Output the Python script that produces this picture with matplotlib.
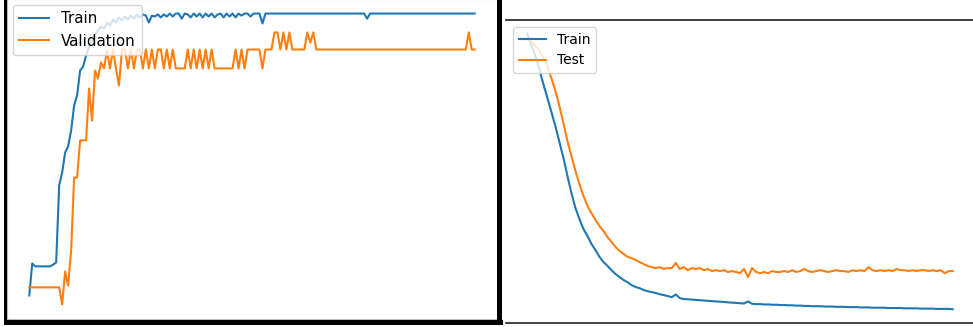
import numpy as np
import matplotlib
matplotlib.use("Agg")
import matplotlib.pyplot as plt
from matplotlib.patches import Rectangle

# figure size in pixels (dpi 100)
W, H = 973, 327

# ---- left panel: accuracy per epoch ----
acc_train = [0.060, 0.167, 0.157, 0.157, 0.157, 0.157, 0.157, 0.157, 0.163, 0.170,
             0.427, 0.470, 0.537, 0.557, 0.610, 0.693, 0.727, 0.810, 0.823, 0.860,
             0.890, 0.910, 0.930, 0.943, 0.957, 0.950, 0.970, 0.960, 0.980, 0.970,
             0.987, 0.977, 0.990, 0.980, 0.993, 0.983, 0.997, 0.987, 0.997, 0.993,
             0.970, 0.993, 0.990, 0.997, 0.987, 0.997, 0.990, 1.000, 0.990, 1.000,
             1.000, 0.983, 1.000, 0.997, 0.987, 1.000, 0.990, 1.000, 0.987, 1.000,
             0.990, 1.000, 0.987, 0.997, 1.000, 0.987, 1.000, 0.990, 1.000, 0.987,
             1.000, 0.993, 1.000, 1.000, 0.990, 1.000, 1.000, 1.000, 0.967, 1.000,
             1.000, 1.000, 1.000, 1.000, 1.000, 1.000, 1.000, 1.000, 1.000, 1.000,
             1.000, 1.000, 1.000, 1.000, 1.000, 1.000, 1.000, 1.000, 1.000, 1.000,
             1.000, 1.000, 1.000, 1.000, 1.000, 1.000, 1.000, 1.000, 1.000, 1.000,
             1.000, 1.000, 1.000, 0.983, 1.000, 1.000, 1.000, 1.000, 1.000, 1.000,
             1.000, 1.000, 1.000, 1.000, 1.000, 1.000, 1.000, 1.000, 1.000, 1.000,
             1.000, 1.000, 1.000, 1.000, 1.000, 1.000, 1.000, 1.000, 1.000, 1.000,
             1.000, 1.000, 1.000, 1.000, 1.000, 1.000, 1.000, 1.000, 1.000, 1.000]

acc_val = [0.087, 0.087, 0.087, 0.087, 0.087, 0.087, 0.087, 0.087, 0.087, 0.087,
           0.087, 0.030, 0.140, 0.093, 0.210, 0.453, 0.453, 0.577, 0.577, 0.577,
           0.750, 0.643, 0.810, 0.783, 0.837, 0.817, 0.877, 0.817, 0.880, 0.817,
           0.760, 0.880, 0.880, 0.817, 0.880, 0.817, 0.880, 0.880, 0.817, 0.880,
           0.817, 0.880, 0.817, 0.880, 0.880, 0.817, 0.880, 0.817, 0.880, 0.817,
           0.817, 0.817, 0.817, 0.880, 0.817, 0.880, 0.817, 0.880, 0.817, 0.880,
           0.817, 0.880, 0.817, 0.817, 0.817, 0.817, 0.817, 0.817, 0.817, 0.880,
           0.817, 0.880, 0.817, 0.880, 0.880, 0.880, 0.880, 0.880, 0.817, 0.880,
           0.880, 0.880, 0.937, 0.937, 0.880, 0.937, 0.880, 0.937, 0.880, 0.880,
           0.880, 0.880, 0.880, 0.937, 0.903, 0.937, 0.880, 0.880, 0.880, 0.880,
           0.880, 0.880, 0.880, 0.880, 0.880, 0.880, 0.880, 0.880, 0.880, 0.880,
           0.880, 0.880, 0.880, 0.880, 0.880, 0.880, 0.880, 0.880, 0.880, 0.880,
           0.880, 0.880, 0.880, 0.880, 0.880, 0.880, 0.880, 0.880, 0.880, 0.880,
           0.880, 0.880, 0.880, 0.880, 0.880, 0.880, 0.880, 0.880, 0.880, 0.880,
           0.880, 0.880, 0.880, 0.880, 0.880, 0.880, 0.880, 0.937, 0.880, 0.880]

# ---- right panel: loss per epoch ----
loss_train = [0.990, 0.953, 0.917, 0.873, 0.823, 0.777, 0.730, 0.683, 0.630, 0.577,
              0.517, 0.460, 0.410, 0.373, 0.340, 0.317, 0.290, 0.270, 0.247, 0.230,
              0.217, 0.203, 0.190, 0.180, 0.170, 0.163, 0.153, 0.147, 0.143, 0.137,
              0.133, 0.130, 0.127, 0.123, 0.120, 0.117, 0.113, 0.122, 0.110, 0.107,
              0.106, 0.105, 0.104, 0.103, 0.102, 0.101, 0.100, 0.099, 0.098, 0.097,
              0.096, 0.095, 0.094, 0.093, 0.092, 0.099, 0.091, 0.090, 0.090, 0.089,
              0.089, 0.088, 0.088, 0.087, 0.087, 0.086, 0.086, 0.085, 0.085, 0.084,
              0.084, 0.083, 0.083, 0.083, 0.082, 0.082, 0.082, 0.081, 0.081, 0.081,
              0.080, 0.080, 0.080, 0.079, 0.079, 0.079, 0.078, 0.078, 0.078, 0.078,
              0.077, 0.077, 0.077, 0.077, 0.076, 0.076, 0.076, 0.076, 0.075, 0.075,
              0.075, 0.075, 0.074, 0.074, 0.074, 0.074, 0.073]

loss_test = [0.973, 0.963, 0.950, 0.933, 0.910, 0.883, 0.843, 0.800, 0.750, 0.693,
             0.633, 0.583, 0.533, 0.490, 0.450, 0.417, 0.393, 0.370, 0.350, 0.333,
             0.313, 0.297, 0.280, 0.267, 0.257, 0.247, 0.243, 0.237, 0.230, 0.223,
             0.217, 0.213, 0.210, 0.213, 0.207, 0.210, 0.210, 0.227, 0.207, 0.213,
             0.203, 0.210, 0.207, 0.210, 0.203, 0.207, 0.200, 0.203, 0.200, 0.203,
             0.197, 0.200, 0.197, 0.193, 0.207, 0.180, 0.210, 0.197, 0.193, 0.197,
             0.193, 0.200, 0.197, 0.197, 0.200, 0.197, 0.203, 0.197, 0.200, 0.207,
             0.200, 0.197, 0.200, 0.203, 0.200, 0.197, 0.200, 0.203, 0.200, 0.200,
             0.197, 0.203, 0.200, 0.203, 0.200, 0.213, 0.203, 0.200, 0.203, 0.200,
             0.203, 0.200, 0.207, 0.203, 0.203, 0.200, 0.203, 0.200, 0.203, 0.203,
             0.200, 0.203, 0.200, 0.203, 0.193, 0.200, 0.200]


def px_box(x0, y0, x1, y1):
    # pixel box (top-left origin) -> figure fraction [left, bottom, width, height]
    return [x0 / W, 1 - y1 / H, (x1 - x0) / W, (y1 - y0) / H]


fig = plt.figure(figsize=(W / 100, H / 100), dpi=100)

# left plot
ax1 = fig.add_axes(px_box(7, -1, 497, 319))
ax1.plot(np.arange(len(acc_train)), acc_train, label="Train")
ax1.plot(np.arange(len(acc_val)), acc_val, label="Validation")
ax1.set_xticks([]); ax1.set_yticks([])
for s in ax1.spines.values():
    s.set_color("#bbbbbb"); s.set_linewidth(0.8)
ax1.legend(loc="upper left", fontsize=10.8, borderaxespad=0.4)

# black screenshot frame around the left plot
for x0, y0, x1, y1 in [(3.5, 0, 6.5, 325), (497.5, 0, 502.5, 325), (3.5, 320, 502.5, 325)]:
    fig.add_artist(Rectangle((x0 / W, 1 - y1 / H), (x1 - x0) / W, (y1 - y0) / H,
                             transform=fig.transFigure, color="black", lw=0))

# right plot
ax2 = fig.add_axes(px_box(506, 20, 974, 323))
ax2.plot(np.arange(len(loss_train)), loss_train, label="Train")
ax2.plot(np.arange(len(loss_test)), loss_test, label="Test")
ax2.set_xticks([]); ax2.set_yticks([])
ax2.spines["left"].set_visible(False)
ax2.spines["right"].set_visible(False)
for s in ("top", "bottom"):
    ax2.spines[s].set_color("#333333"); ax2.spines[s].set_linewidth(1.3)
ax2.legend(loc="upper left", fontsize=10)

fig.savefig("out.png", dpi=100)
